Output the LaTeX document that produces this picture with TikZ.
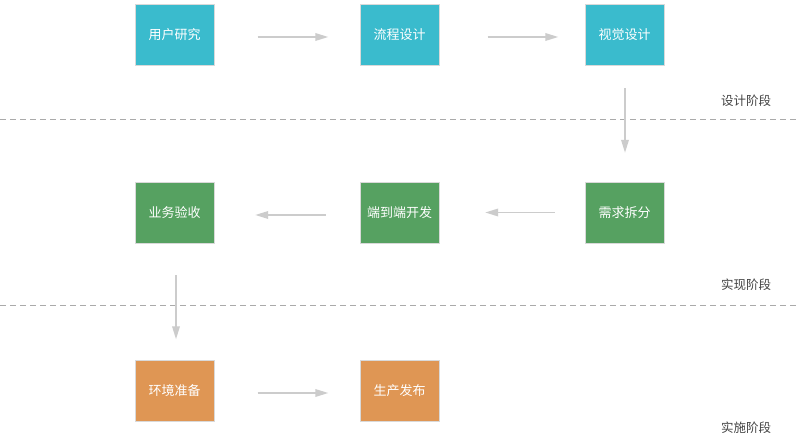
\documentclass[tikz,border=0pt]{standalone}
\usepackage{fontspec}
\setmainfont{Noto Sans CJK SC}
\usetikzlibrary{arrows.meta,shadows}
\definecolor{cteal}{HTML}{3ABBCD}
\definecolor{cgreen}{HTML}{56A161}
\definecolor{corange}{HTML}{DF9654}
\definecolor{carrow}{HTML}{CCCCCC}
\definecolor{cdash}{HTML}{AAAAAA}
\definecolor{clabel}{HTML}{444444}
\begin{document}
\begin{tikzpicture}[x=1pt,y=-1pt,
  box/.style={minimum width=79pt,minimum height=61pt,inner sep=0pt,text=white,font=\fontsize{13pt}{15pt}\selectfont,
    draw=white!85!black,line width=0.4pt,drop shadow={shadow xshift=0pt,shadow yshift=0pt,opacity=0.15}},
  tealbox/.style={box,fill=cteal},
  greenbox/.style={box,fill=cgreen},
  orangebox/.style={box,fill=corange},
  flow/.style={draw=carrow,line width=1.8pt,-{Triangle[length=13pt,width=7.5pt]}},
  sep/.style={draw=cdash,line width=0.8pt,dash pattern=on 6pt off 4pt},
  phase/.style={text=clabel,font=\fontsize{12.5pt}{15pt}\selectfont,inner sep=0pt}]
\useasboundingbox (0,0) rectangle (800,435);
\fill[white] (0,0) rectangle (800,435);
% separators
\coordinate (s1a) at (0,119); \coordinate (s1b) at (800,119);
\coordinate (s2a) at (0,305); \coordinate (s2b) at (800,305);
\draw[sep] (s1a) -- (s1b);
\draw[sep] (s2a) -- (s2b);
% nodes
\node[tealbox] (n1) at (174.5,34.5) {用户研究};
\node[tealbox] (n2) at (399.5,34.5) {流程设计};
\node[tealbox] (n3) at (624.5,34.5) {视觉设计};
\node[greenbox] (n4) at (624.5,212.5) {需求拆分};
\node[greenbox] (n5) at (399.5,212.5) {端到端开发};
\node[greenbox] (n6) at (174.5,212.5) {业务验收};
\node[orangebox] (n7) at (174.5,391) {环境准备};
\node[orangebox] (n8) at (399.5,391) {生产发布};
% phase labels
\node[phase] (p1) at (746,101) {设计阶段};
\node[phase] (p2) at (746,285) {实现阶段};
\node[phase] (p3) at (746,428) {实施阶段};
% connectors
\draw[flow] ([xshift=43.5pt,yshift=-2.5pt]n1.east) -- ([xshift=-31.5pt,yshift=-2.5pt]n2.west);
\draw[flow] ([xshift=48.5pt,yshift=-2.5pt]n2.east) -- ([xshift=-26.5pt,yshift=-2.5pt]n3.west);
\draw[flow] ([xshift=0.5pt,yshift=-23pt]n3.south) -- ([xshift=0.5pt,yshift=29pt]n4.north);
\draw[flow] ([xshift=-30pt]n4.west) -- ([xshift=46pt]n5.east);
\draw[flow] ([xshift=-34pt,yshift=-2.5pt]n5.west) -- ([xshift=41pt,yshift=-2.5pt]n6.east);
\draw[flow] ([xshift=1.5pt,yshift=-32pt]n6.south) -- ([xshift=1.5pt,yshift=21pt]n7.north);
\draw[flow] ([xshift=43.5pt,yshift=-2pt]n7.east) -- ([xshift=-31.5pt,yshift=-2pt]n8.west);
\end{tikzpicture}
\end{document}
